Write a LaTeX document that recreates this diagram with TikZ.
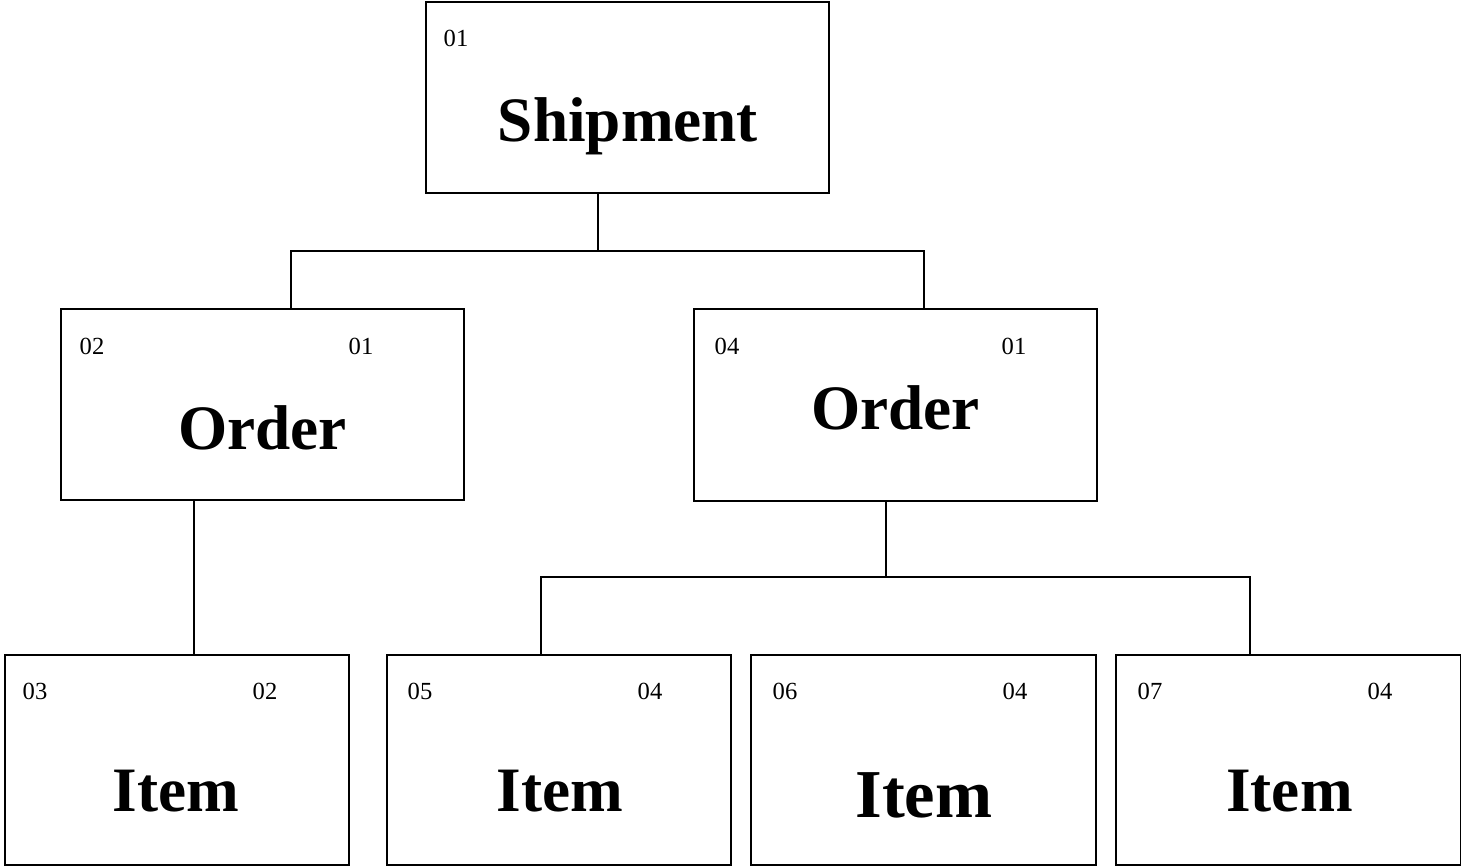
\documentclass[tikz,border=0pt]{standalone}
\usepackage{fontspec}
\setmainfont{Liberation Serif}
\usetikzlibrary{positioning}

\begin{document}
\begin{tikzpicture}[x=0.02cm, y=-0.02cm,
    box/.style={draw, line width=1.1pt, inner sep=0pt, minimum width=#1*0.02cm},
    title/.style={font=\fontsize{36}{40}\selectfont\bfseries, inner sep=0pt},
    num/.style={font=\fontsize{14}{16}\selectfont, inner sep=0pt},
    link/.style={line width=0.9pt}]
      \useasboundingbox (0,0) rectangle (1461,867);

      % boxes
      \node [box=403, minimum height=191*0.02cm] (ship) at (627.5, 97.5) {};
      \node [box=403, minimum height=191*0.02cm] (ordL) at (262.5, 404.5) {};
      \node [box=403, minimum height=192*0.02cm] (ordR) at (895.5, 405) {};
      \node [box=344, minimum height=210*0.02cm] (itemA) at (177, 760) {};
      \node [box=344, minimum height=210*0.02cm] (itemB) at (559, 760) {};
      \node [box=345, minimum height=210*0.02cm] (itemC) at (923.5, 760) {};
      \node [box=345, minimum height=210*0.02cm] (itemD) at (1288.5, 760) {};

      \node [title] (shipT) at (628, 126) {Shipment};
      \node [title] (ordLT) at (262.5, 428) {Order};
      \node [title] (ordRT) at (895.5, 408) {Order};
      \node [title] (itemAT) at (176, 791) {Item};
      \node [title] (itemBT) at (560, 791) {Item};
      \node [title, font=\fontsize{39}{42}\selectfont\bfseries] (itemCT) at (924, 795) {Item};
      \node [title] (itemDT) at (1289.5, 791) {Item};

      % level numbers
      \node [num] (shipN) at (456, 38) {01};
      \node [num] (ordLN) at (92, 346) {02};
      \node [num] (ordLP) at (361, 346) {01};
      \node [num] (ordRN) at (727, 346) {04};
      \node [num] (ordRP) at (1014, 346) {01};
      \node [num] (itemAN) at (35, 691) {03};
      \node [num] (itemAP) at (265, 691) {02};
      \node [num] (itemBN) at (420, 691) {05};
      \node [num] (itemBP) at (650, 691) {04};
      \node [num] (itemCN) at (785, 691) {06};
      \node [num] (itemCP) at (1015, 691) {04};
      \node [num] (itemDN) at (1150, 691) {07};
      \node [num] (itemDP) at (1380, 691) {04};

      % connectors
      \coordinate (busA) at (598, 251);
      \coordinate (busAl) at (291, 251);
      \coordinate (busAr) at (924, 251);
      \draw [link] (ship.south -| busA) -- (busA);
      \draw [link] (ordL.north -| busAl) |- (busAr) -- (ordR.north -| busAr);

      \coordinate (dropL) at (194, 577);
      \draw [link] (ordL.south -| dropL) -- (itemA.north -| dropL);

      \coordinate (busB) at (886, 577);
      \coordinate (busBl) at (541, 577);
      \coordinate (busBr) at (1250, 577);
      \draw [link] (ordR.south -| busB) -- (busB);
      \draw [link] (itemB.north -| busBl) |- (busBr) -- (itemD.north -| busBr);

    \end{tikzpicture}
\end{document}
